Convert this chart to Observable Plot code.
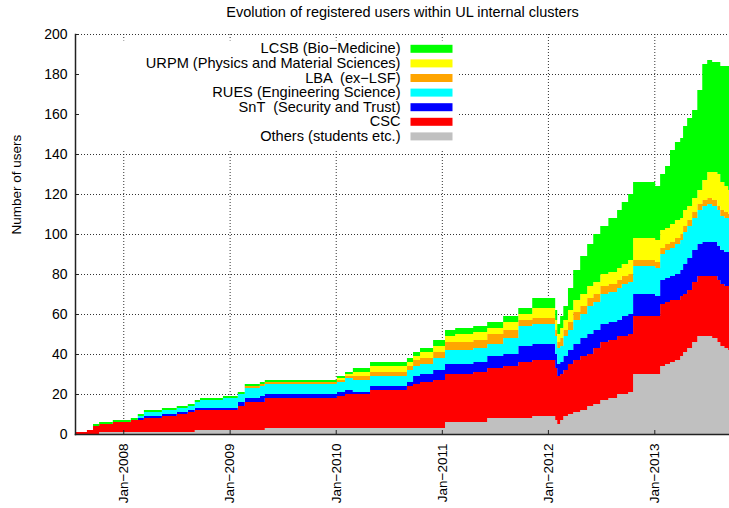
<!DOCTYPE html>
<html><head><meta charset="utf-8">
<script src="https://cdn.jsdelivr.net/npm/d3@7"></script>
<script src="https://cdn.jsdelivr.net/npm/@observablehq/plot@0.6"></script>
<style>
body{margin:0;background:#fff;}
#chart svg{display:block;}
</style></head><body><div id="chart"></div>
<script>
// ---- data ----
const dates = ["2007-07-19","2007-08-29","2007-09-19","2007-10-10","2007-11-26","2008-01-27","2008-02-20","2008-03-12","2008-05-13","2008-07-03",
"2008-08-10","2008-09-03","2008-09-21","2008-12-09","2009-01-29","2009-02-22","2009-04-15","2009-05-02","2010-01-05","2010-02-02",
"2010-03-01","2010-04-29","2010-09-03","2010-09-24","2010-10-18","2010-12-02","2011-01-12","2011-02-16","2011-04-19","2011-06-06",
"2011-07-31","2011-09-21","2011-11-08","2012-01-26","2012-02-02","2012-02-12","2012-02-23","2012-03-10","2012-03-28",
"2012-04-21","2012-05-15","2012-06-05","2012-06-29","2012-07-27","2012-08-26","2012-09-11","2012-10-03",
"2012-10-20","2013-01-04","2013-01-21","2013-02-07","2013-02-24","2013-03-13","2013-03-31",
"2013-04-10","2013-04-24","2013-05-11","2013-05-29","2013-06-15","2013-07-02","2013-07-19","2013-08-06","2013-08-16","2013-08-30",
"2013-09-12","2013-09-15"];
const others = [0,0,0,1,1,1,1,1,1,1, 1,2,2,2,2,2,2,3,3,3, 3,3,3,3,3,3,6,6,6,8,
  8,8,9,7,5,7,9,10,11, 12,14,15,17,18,20,20,21, 30,30,34,35,36,37,39, 41,43,46,49,49,49,48,46,44,43, 42,42];
const csc    = [1,2,4,4,5,6,6,7,8,9, 10,10,10,10,12,14,14,15,16,17, 17,19,21,22,23,24,24,24,25,25,
  26,28,28,26,24,23,23,25,26, 27,26,28,29,29,29,29,29, 29,29,31,31,31,30,30, 29,29,30,30,30,30,31,31,31,31, 32,32];
const snt    = [0,0,0,0,0,0,1,1,1,1, 1,1,1,1,2,2,3,2,2,2, 1,2,2,4,4,5,5,5,5,6,
  6,8,8,7,6,6,7,7,8, 9,10,9,9,9,8,10,10, 11,10,12,12,12,13,13, 15,16,16,16,17,17,17,17,17,17, 17,17];
const rues   = [0,0,0,0,0,0,1,2,2,2, 2,3,4,5,4,5,5,5,5,6, 6,5,6,5,5,6,7,7,7,6,
  8,10,10,9,8,8,10,10,12, 12,14,14,15,15,16,16,16, 14,14,13,14,14,15,15, 16,16,16,17,18,19,18,18,17,17, 17,17];
const lba    = [0,0,0,0,0,0,0,0,0,0, 0,0,0,0,0,1,1,1,1,1, 2,2,2,3,3,3,4,4,4,5,
  4,3,3,3,3,4,3,4,4, 4,4,4,4,4,4,4,4, 3,3,3,3,3,3,3, 3,3,3,3,3,3,3,2,3,3, 2,2];
const urpm   = [0,0,0,0,0,0,0,0,0,0, 0,0,0,0,0,0,0,0,1,1, 2,3,2,2,3,3,3,4,4,3,
  4,3,5,5,4,5,5,6,6, 6,6,6,6,6,6,6,7, 11,11,9,8,9,9,8, 8,7,7,7,10,13,14,16,14,13, 12,12];
const lcsb   = [0,0,1,1,1,1,1,1,1,1, 1,1,1,1,1,1,1,1,1,1, 2,2,2,2,2,3,3,3,3,3,
  3,3,5,5,5,6,7,11,15, 19,21,24,24,27,29,31,33, 28,27,28,31,37,39,40, 42,44,44,50,58,56,55,56,58,60, 62,62];

const seriesNames = ["Others (students etc.)","CSC","SnT  (Security and Trust)","RUES (Engineering Science)","LBA  (ex\u2212LSF)","URPM (Physics and Material Sciences)","LCSB (Bio\u2212Medicine)"];
const seriesValues = [others, csc, snt, rues, lba, urpm, lcsb];
const colors = ["#c0c0c0","#ff0000","#0000ff","#00ffff","#ffa500","#ffff00","#00ff00"];
const yTicks = [0,20,40,60,80,100,120,140,160,180,200];
const xTickDates = ["2008-01-01","2009-01-01","2010-01-01","2011-01-01","2012-01-01","2013-01-01"];
const xTickLabels = ["Jan\u22122008","Jan\u22122009","Jan\u22122010","Jan\u22122011","Jan\u22122012","Jan\u22122013"];
const titleText = "Evolution of registered users within UL internal clusters";
const yLabelText = "Number of users";

// ---- build table ----
const table = [];
seriesNames.forEach((s, k) => {
  dates.forEach((d, j) => table.push({date: new Date(d), series: s, value: seriesValues[k][j]}));
});
const xTicks = xTickDates.map(d => new Date(d));
const font = "'Liberation Sans', Arial, Helvetica, sans-serif";
const gridStyle = {stroke: "#333", strokeOpacity: 1, strokeDasharray: "1,2", strokeWidth: 1};

// legend (drawn top-down: LCSB first)
const legendMarks = [];
const legendOrder = seriesNames.slice().reverse();
const legendColors = colors.slice().reverse();
legendOrder.forEach((name, i) => {
  const cy = 14.3 + 14.6 * i; // offset from frame top
  legendMarks.push(Plot.text([name], {frameAnchor: "top-left", text: d => d, dx: 325, dy: cy, textAnchor: "end", lineAnchor: "middle", fontSize: 14.6, fill: "#000"}));
  legendMarks.push(Plot.frame({fill: legendColors[i], stroke: null, insetLeft: 335, insetRight: 277, insetTop: cy - 4, insetBottom: 400 - cy - 4}));
});

const plot = Plot.plot({
  width: 729, height: 508,
  marginLeft: 75, marginRight: 0, marginTop: 34, marginBottom: 74,
  style: {fontFamily: font, fontSize: "14px", background: "#fff", color: "#000", overflow: "visible"},
  x: {type: "utc", domain: [new Date("2007-07-19"), new Date("2013-09-15")]},
  y: {domain: [0, 200]},
  color: {domain: seriesNames, range: colors},
  marks: [
    Plot.gridX({ticks: xTicks, ...gridStyle}),
    Plot.gridY({ticks: yTicks.filter(v => v > 0), ...gridStyle}),
    Plot.frame({fill: "#fff", stroke: null, insetLeft: 1, insetRight: 271, insetTop: 6, insetBottom: 284}),
    Plot.areaY(table, {x: "date", y: "value", z: "series", fill: "series", order: seriesNames, curve: "step-after"}),
    Plot.axisX({ticks: xTicks, tickFormat: d => xTickLabels[xTicks.findIndex(t => +t === +d)], tickRotate: -90, tickSize: 0, tickPadding: 9, label: null, fontSize: 13.5}),
    Plot.axisX({ticks: xTicks, tickSize: -4, tickFormat: () => "", label: null, stroke: "#222"}),
    Plot.axisY({ticks: yTicks, tickSize: 0, tickPadding: 8, label: null, fontSize: 14}),
    Plot.axisY({ticks: yTicks, tickSize: -4, tickFormat: () => "", label: null, stroke: "#222"}),
    Plot.frame({anchor: "left", stroke: "#222", strokeWidth: 1.5}),
    Plot.frame({anchor: "bottom", stroke: "#222", strokeWidth: 1.5}),
    ...legendMarks,
    Plot.text([yLabelText], {frameAnchor: "left", text: d => d, dx: -59, rotate: -90, fontSize: 13.5, fill: "#000"}),
    Plot.text([titleText], {frameAnchor: "top", text: d => d, dy: -22, lineAnchor: "middle", fontSize: 14.5, fill: "#000"})
  ]
});
document.getElementById("chart").appendChild(plot);
</script></body></html>
